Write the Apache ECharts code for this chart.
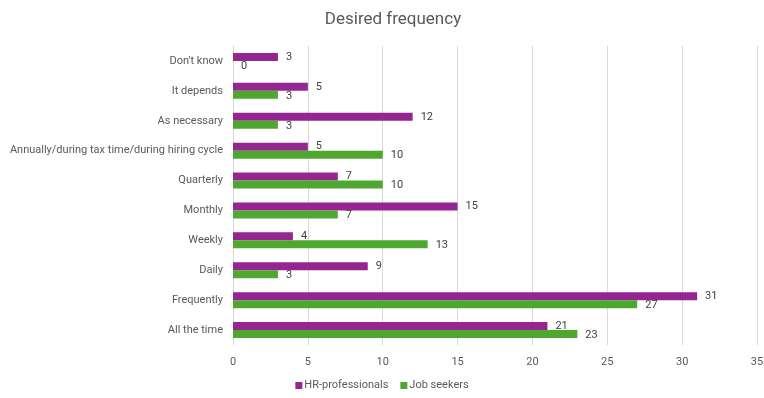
<!DOCTYPE html>
<html>
<head>
<meta charset="utf-8">
<script src="https://cdn.jsdelivr.net/npm/echarts@6/dist/echarts.min.js"></script>
<style>
html,body{margin:0;padding:0;background:#fff;}
#chart{width:764px;height:398px;}
</style>
</head>
<body>
<div id="chart"></div>
<script>
const categories = ["Don't know", "It depends", "As necessary", "Annually/during tax time/during hiring cycle", "Quarterly", "Monthly", "Weekly", "Daily", "Frequently", "All the time"];
const hrProfessionals = [3, 5, 12, 5, 7, 15, 4, 9, 31, 21];
const jobSeekers = [0, 3, 3, 10, 10, 7, 13, 3, 27, 23];
const seriesNames = ["HR-professionals", "Job seekers"];
const xTicks = [0, 5, 10, 15, 20, 25, 30, 35];

const chart = echarts.init(document.getElementById('chart'), null, {renderer: 'canvas'});
const font = 'Roboto, "Open Sans", sans-serif';
chart.setOption({
  backgroundColor: '#ffffff',
  animation: false,
  title: {
    text: 'Desired frequency',
    left: 388, top: 6, textAlign: 'center',
    textStyle: {fontFamily: font, fontSize: 17, fontWeight: 'normal', color: '#595959'}
  },
  legend: {
    data: seriesNames,
    bottom: 2, left: 'center',
    itemWidth: 7, itemHeight: 7, itemGap: 12,
    icon: 'rect',
    textStyle: {fontFamily: font, fontSize: 11, color: '#595959', padding: [0,0,0,-3]}
  },
  grid: {left: 233, right: 7, top: 46, bottom: 53, containLabel: false, outerBoundsMode: 'none'},
  xAxis: {
    type: 'value', min: xTicks[0], max: xTicks[xTicks.length-1], interval: 5,
    axisLine: {show: false}, axisTick: {show: false},
    axisLabel: {fontFamily: font, fontSize: 11, color: '#595959', margin: 12},
    splitLine: {lineStyle: {color: '#d9d9d9', width: 1}}
  },
  yAxis: {
    type: 'category', data: categories, inverse: true,
    axisLine: {lineStyle: {color: '#d9d9d9'}}, axisTick: {show: false},
    axisLabel: {fontFamily: font, fontSize: 11, color: '#595959', margin: 10}
  },
  series: [
    {
      name: seriesNames[0], type: 'bar', data: hrProfessionals,
      barWidth: 8, barGap: '0%',
      itemStyle: {color: '#952590'},
      label: {show: true, position: 'right', distance: 8, fontFamily: font, fontSize: 11, color: '#404040'}
    },
    {
      name: seriesNames[1], type: 'bar', data: jobSeekers,
      barWidth: 8, barGap: '0%',
      itemStyle: {color: '#4EA72E'},
      label: {show: true, position: 'right', distance: 8, offset: [0, 1], fontFamily: font, fontSize: 11, color: '#404040'}
    }
  ]
});
</script>
</body>
</html>
